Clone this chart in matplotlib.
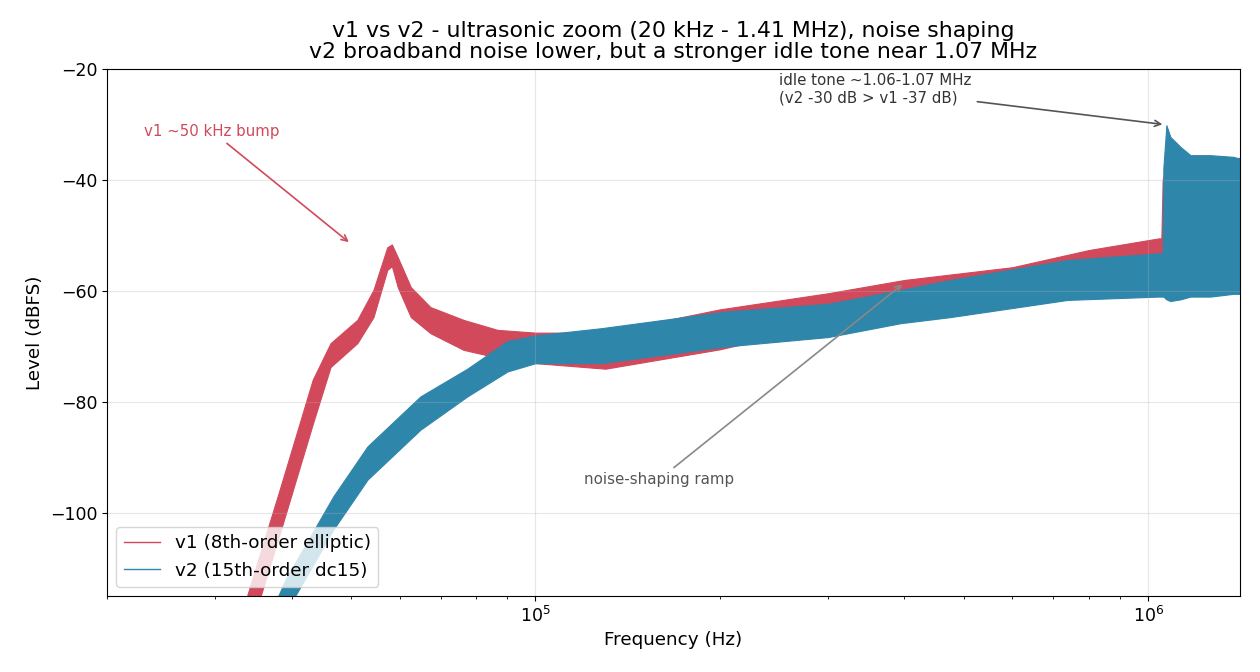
import numpy as np
import matplotlib
matplotlib.use('Agg')
import matplotlib.pyplot as plt
from matplotlib.lines import Line2D

# envelope of each noisy spectrum: freq (Hz), low / high (dBFS)
v1_freq = [33.0e3, 34.7e3, 38.2e3, 43.3e3, 46.3e3, 51.2e3, 54.4e3, 57.3e3, 58.3e3, 59.6e3,
           62.6e3, 67.4e3, 76.3e3, 86.7e3, 100e3, 130e3, 200e3, 300e3, 400e3, 600e3,
           800e3, 1.040e6, 1.050e6, 1.055e6, 1.07e6, 1.10e6, 1.41e6]
v1_lo = [-127, -119, -104, -84, -73.7, -69.4, -64.7, -56.2, -55.5, -59.3,
         -64.7, -67.6, -70.6, -72.0, -73.0, -74.0, -70.5, -66.0, -63.5, -61.0,
         -57.5, -55.5, -55.5, -60.0, -60.0, -60.0, -60.0]
v1_hi = [-119, -111, -96, -76, -69.4, -65.2, -59.8, -52.1, -51.6, -53.9,
         -59.3, -62.9, -65.2, -67.0, -67.5, -67.5, -63.3, -60.4, -58.0, -55.7,
         -52.6, -50.5, -50.5, -40.0, -37.0, -40.0, -40.0]

v2_freq = [37.0e3, 39.1e3, 46.8e3, 53.2e3, 64.9e3, 77.4e3, 90e3, 100e3, 128e3, 204e3,
           300e3, 394e3, 475e3, 738e3, 1.038e6, 1.055e6, 1.058e6, 1.070e6, 1.086e6, 1.128e6,
           1.171e6, 1.262e6, 1.376e6, 1.397e6, 1.41e6]
v2_lo = [-124, -118, -103, -94, -85, -79, -74.5, -73.0, -73.0, -70.0,
         -68.3, -65.8, -64.7, -61.6, -61.0, -61.0, -61.0, -61.5, -61.8, -61.5,
         -61.0, -61.0, -60.5, -60.5, -60.5]
v2_hi = [-118, -112, -97, -88, -79, -74, -69.0, -68.0, -66.7, -63.7,
         -62.3, -59.8, -58.0, -54.4, -53.2, -53.2, -37.7, -30.1, -32.2, -34.0,
         -35.5, -35.5, -35.8, -36.0, -36.0]

c1 = '#d1495b'
c2 = '#2e86ab'

fig, ax = plt.subplots(figsize=(12.6, 6.72), dpi=100)
fig.subplots_adjust(left=0.085, right=0.984, top=0.897, bottom=0.113)

ax.fill_between(v1_freq, v1_lo, v1_hi, color=c1, lw=0.8)
ax.fill_between(v2_freq, v2_lo, v2_hi, color=c2, lw=0.8)

ax.set_xscale('log')
ax.set_xlim(20e3, 1.41e6)
ax.set_ylim(-115, -20)
ax.grid(True, alpha=0.3)
ax.tick_params(labelsize=12.5)
ax.set_xlabel('Frequency (Hz)', fontsize=13.2)
ax.set_ylabel('Level (dBFS)', fontsize=13.2)
ax.set_title('v1 vs v2 - ultrasonic zoom (20 kHz - 1.41 MHz), noise shaping\n'
             'v2 broadband noise lower, but a stronger idle tone near 1.07 MHz',
             fontsize=15.8, linespacing=1.05, pad=8)

ax.annotate('v1 ~50 kHz bump', xy=(50e3, -51.5), xytext=(23e3, -31.2),
            color=c1, fontsize=10.8, va='center',
            arrowprops=dict(arrowstyle='->', color=c1, lw=1.2))
ax.annotate('idle tone ~1.06-1.07 MHz\n(v2 -30 dB > v1 -37 dB)', xy=(1.065e6, -30),
            xytext=(2.5e5, -23.6), color='#333333', fontsize=10.8, va='center',
            linespacing=1.15,
            arrowprops=dict(arrowstyle='->', color='#555555', lw=1.2))
ax.annotate('noise-shaping ramp', xy=(4e5, -58.5), xytext=(1.59e5, -94.0),
            color='#555555', fontsize=10.8, ha='center', va='center',
            arrowprops=dict(arrowstyle='->', color='#888888', lw=1.2))

handles = [Line2D([], [], color=c1, lw=1), Line2D([], [], color=c2, lw=1)]
ax.legend(handles, ['v1 (8th-order elliptic)', 'v2 (15th-order dc15)'],
          loc='lower left', fontsize=13.2)

fig.savefig('out.png', dpi=100)
